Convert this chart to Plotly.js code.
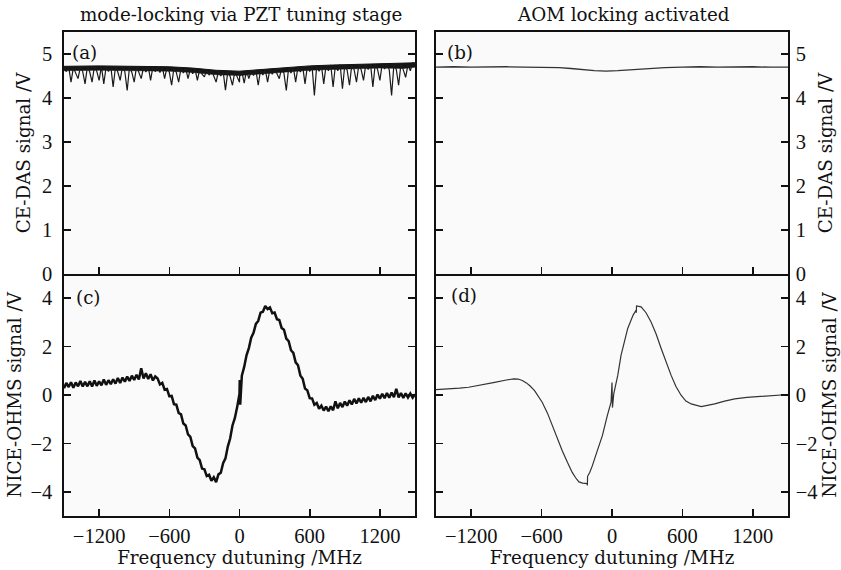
<!DOCTYPE html>
<html>
<head>
<meta charset="utf-8">
<script src="https://cdn.plot.ly/plotly-3.0.1.min.js"></script>
<style>html,body{margin:0;padding:0;background:#fff;}#chart{width:841px;height:570px;}</style>
</head>
<body>
<div id="chart"></div>
<script>
// Frequency detuning grid (MHz) shared by panels (a) and (c)
const detuningMHz = [
  -1500,-1480,-1460,-1440,-1420,-1400,-1380,-1360,-1340,-1320,
  -1300,-1280,-1260,-1240,-1220,-1200,-1180,-1160,-1140,-1120,
  -1100,-1080,-1060,-1040,-1020,-1000,-980,-960,-940,-920,
  -900,-880,-860,-840,-820,-800,-780,-760,-740,-720,
  -700,-680,-660,-640,-620,-600,-580,-560,-540,-520,
  -500,-480,-460,-440,-420,-400,-380,-360,-340,-320,
  -300,-280,-260,-240,-220,-200,-180,-160,-140,-120,
  -100,-80,-60,-40,-20,0,2,6,20,40,60,80,
  100,120,140,160,180,200,220,240,260,280,
  300,320,340,360,380,400,420,440,460,480,
  500,520,540,560,580,600,620,640,660,680,
  700,720,740,760,780,800,820,840,860,880,
  900,920,940,960,980,1000,1020,1040,1060,1080,
  1100,1120,1140,1160,1180,1200,1220,1240,1260,1280,
  1300,1320,1340,1360,1380,1400,1420,1440,1460,1480,
  1500
];
// (a) CE-DAS signal, PZT mode-locking (V): noisy trace with dips
const ceDasPZT = [
  4.70,4.60,4.71,4.36,4.69,4.58,4.44,4.71,4.60,4.32,
  4.72,4.59,4.36,4.72,4.61,4.40,4.72,4.32,4.71,4.60,
  4.72,4.25,4.71,4.59,4.40,4.72,4.60,4.17,4.71,4.58,
  4.36,4.72,4.60,4.44,4.71,4.59,4.72,4.40,4.71,4.60,
  4.70,4.58,4.71,4.44,4.70,4.59,4.29,4.69,4.58,4.36,
  4.68,4.57,4.68,4.44,4.67,4.55,4.66,4.40,4.65,4.54,
  4.48,4.64,4.52,4.63,4.50,4.36,4.61,4.50,4.61,4.18,
  4.60,4.49,4.29,4.60,4.48,4.36,4.61,4.50,4.61,4.34,4.62,4.44,
  4.62,4.51,4.63,4.29,4.64,4.52,4.65,4.36,4.66,4.54,
  4.67,4.55,4.44,4.68,4.56,4.17,4.69,4.57,4.70,4.36,
  4.71,4.59,4.72,4.32,4.72,4.60,4.73,4.06,4.73,4.61,
  4.74,4.32,4.74,4.62,4.75,4.25,4.75,4.62,4.76,4.21,
  4.75,4.63,4.29,4.76,4.64,4.36,4.76,4.64,4.40,4.77,
  4.65,4.77,4.25,4.77,4.65,4.40,4.78,4.66,4.78,4.64,
  4.06,4.77,4.65,4.29,4.77,4.64,4.47,4.76,4.62,4.80,
  4.78
];
// (a) dense noise band envelope (V)
const bandDetuning = [-1500,-1200,-900,-600,-400,-200,0,200,400,600,800,1000,1200,1400,1500];
const bandUpper = [4.72,4.73,4.72,4.71,4.68,4.63,4.61,4.65,4.70,4.73,4.75,4.76,4.78,4.78,4.80];
const bandLower = [4.62,4.63,4.62,4.61,4.58,4.53,4.51,4.55,4.60,4.63,4.65,4.66,4.68,4.67,4.70];
// (c) NICE-OHMS signal, PZT mode-locking (V)
const niceOhmsPZT = [
  0.28,0.50,0.33,0.53,0.30,0.52,0.36,0.58,0.35,0.54,
  0.36,0.57,0.35,0.60,0.38,0.56,0.40,0.64,0.42,0.61,
  0.45,0.65,0.47,0.70,0.50,0.72,0.55,0.76,0.58,0.80,
  0.62,0.84,0.64,1.10,0.68,0.90,0.66,0.86,0.60,0.77,
  0.68,0.44,0.50,0.22,0.25,-0.05,-0.04,-0.38,-0.40,-0.74,
  -0.80,-1.18,-1.26,-1.63,-1.73,-2.11,-2.21,-2.59,-2.69,-3.04,
  -3.07,-3.35,-3.30,-3.54,-3.40,-3.60,-3.28,-3.21,-2.82,-2.62,
  -2.13,-1.80,-1.26,-0.96,-0.50,0.05,0.62,-0.40,0.80,1.16,1.64,1.94,
  2.37,2.57,2.94,3.06,3.40,3.44,3.68,3.55,3.62,3.38,
  3.41,3.13,3.10,2.77,2.70,2.33,2.23,1.85,1.74,1.35,
  1.23,0.81,0.67,0.27,0.19,-0.13,-0.14,-0.40,-0.33,-0.57,
  -0.44,-0.64,-0.48,-0.67,-0.47,-0.63,-0.26,-0.55,-0.33,-0.50,
  -0.27,-0.44,-0.22,-0.39,-0.16,-0.35,-0.14,-0.32,-0.12,-0.29,
  -0.08,-0.26,-0.03,-0.21,0.02,-0.15,0.05,-0.13,0.08,-0.11,
  0.10,-0.09,0.25,-0.10,0.08,-0.12,0.07,-0.10,0.06,-0.11,
  0.03
];
// (b) CE-DAS signal, AOM locking (V)
const detuningAOM_b = [-1500,-1350,-1200,-1050,-900,-750,-600,-450,-350,-250,-150,-50,0,50,150,250,350,450,600,750,900,1050,1200,1350,1500];
const ceDasAOM = [4.70,4.71,4.70,4.71,4.71,4.70,4.70,4.69,4.67,4.64,4.62,4.61,4.61,4.62,4.64,4.66,4.68,4.69,4.70,4.71,4.70,4.71,4.71,4.70,4.70];
// (d) NICE-OHMS signal, AOM locking (V)
const detuningAOM_d = [
  -1500,-1400,-1300,-1222,-1100,-1000,-900,-837,-800,-764,
  -730,-700,-660,-630,-595,-550,-510,-467,-424,-380,
  -339,-310,-282,-250,-225,-212,-210,-208,-190,-168,
  -125,-82,-40,-8,0,4,15,49,77,134,
  180,205,207,209,248,290,333,376,419,460,
  504,545,590,630,675,761,875,960,1046,1150,
  1245,1370,1500
];
const niceOhmsAOM = [
  0.22,0.24,0.28,0.32,0.42,0.52,0.62,0.67,0.66,0.60,
  0.50,0.38,0.18,-0.02,-0.30,-0.75,-1.27,-1.80,-2.30,-2.78,
  -3.20,-3.42,-3.59,-3.64,-3.65,-3.66,-3.74,-3.36,-3.20,-2.93,
  -2.30,-1.68,-0.85,-0.30,0.52,-0.52,0.05,0.81,1.64,2.75,
  3.30,3.50,3.40,3.68,3.64,3.40,3.02,2.52,1.92,1.35,
  0.81,0.35,-0.02,-0.25,-0.37,-0.48,-0.37,-0.25,-0.16,-0.10,
  -0.06,-0.03,0.02
];
const xTicks = [-1200,-600,0,600,1200];
const yTicksTop = [0,1,2,3,4,5];
const yTicksBottom = [-4,-2,0,2,4];
const columnTitles = ['mode-locking via PZT tuning stage','AOM locking activated'];
const panelLabels = ['(a)','(b)','(c)','(d)'];
const yTitleTop = 'CE-DAS signal /V';
const yTitleBottom = 'NICE-OHMS signal /V';
const xTitle = 'Frequency dutuning /MHz';

const TXT = 'DejaVu Serif, serif';
const TICKF = {family:'Liberation Serif, serif', size:20.5, color:'#111'};
const TITLEF = {family:TXT, size:18.3, color:'#111'};

const traces = [
  {x:bandDetuning, y:bandLower, xaxis:'x', yaxis:'y', type:'scatter', mode:'lines', line:{color:'#111', width:0.5}},
  {x:bandDetuning, y:bandUpper, xaxis:'x', yaxis:'y', type:'scatter', mode:'lines', fill:'tonexty', fillcolor:'#151515', line:{color:'#111', width:1}},
  {x:detuningMHz, y:ceDasPZT, xaxis:'x', yaxis:'y', type:'scatter', mode:'lines', line:{color:'#1a1a1a', width:1.2}},
  {x:detuningAOM_b, y:ceDasAOM, xaxis:'x2', yaxis:'y2', type:'scatter', mode:'lines', line:{color:'#333', width:1.3}},
  {x:detuningMHz, y:niceOhmsPZT, xaxis:'x3', yaxis:'y3', type:'scatter', mode:'lines', line:{color:'#111', width:2.5}},
  {x:detuningAOM_d, y:niceOhmsAOM, xaxis:'x4', yaxis:'y4', type:'scatter', mode:'lines', line:{color:'#333', width:1.2}}
];

const L = [64/841, 415/841], R = [436/841, 788/841];
const T = [1-274/570, 1-32/570], B = [1-516/570, 1-274/570];

function xa(dom, anchor, labels){
  return {domain:dom, anchor:anchor, range:[-1500,1500], tickvals:xTicks, ticks:'inside', ticklen:7, tickwidth:1.6, tickcolor:'#111',
    showline:true, linecolor:'#111', linewidth:1.6, mirror: !labels, showgrid:false, zeroline:false,
    showticklabels:labels, tickfont:TICKF, ticklabelstandoff:1,
    title: labels ? {text:xTitle, font:TITLEF, standoff:0} : undefined};
}
function ya(dom, anchor, side, range, vals, title, standoff){
  return {domain:dom, anchor:anchor, side:side, range:range, tickvals:vals, ticks:'inside', ticklen:7, tickwidth:1.6, tickcolor:'#111',
    showline:true, linecolor:'#111', linewidth:1.6, mirror:'ticks', showgrid:false, zeroline:false,
    tickfont:TICKF, ticklabelstandoff: side==='left' ? 6 : 2, title:{text:title, font:TITLEF, standoff:standoff}};
}

const ann = [];
ann.push({text:columnTitles[0], x:241/841, y:1-15/570, xref:'paper', yref:'paper', showarrow:false, xanchor:'center', yanchor:'middle', font:TITLEF});
ann.push({text:columnTitles[1], x:623/841, y:1-15/570, xref:'paper', yref:'paper', showarrow:false, xanchor:'center', yanchor:'middle', font:TITLEF});
const pl = [[70,52],[445,52],[74,297],[449,296]];
panelLabels.forEach((t,i)=>ann.push({text:t, x:pl[i][0]/841, y:1-pl[i][1]/570, xref:'paper', yref:'paper', showarrow:false, xanchor:'left', yanchor:'middle', font:TITLEF}));

const layout = {
  width:841, height:570, margin:{l:0,r:0,t:0,b:0},
  paper_bgcolor:'#ffffff', plot_bgcolor:'#fafafa', showlegend:false,
  xaxis: xa(L,'y',false), yaxis: ya(T,'x','left',[0,5.5],yTicksTop,yTitleTop,6),
  xaxis2: xa(R,'y2',false), yaxis2: ya(T,'x2','right',[0,5.5],yTicksTop,yTitleTop,14),
  xaxis3: xa(L,'y3',true), yaxis3: ya(B,'x3','left',[-5,5],yTicksBottom,yTitleBottom,4),
  xaxis4: xa(R,'y4',true), yaxis4: ya(B,'x4','right',[-5,5],yTicksBottom,yTitleBottom,6),
  annotations: ann
};
Plotly.newPlot('chart', traces, layout, {staticPlot:true, displayModeBar:false});
</script>
</body>
</html>
